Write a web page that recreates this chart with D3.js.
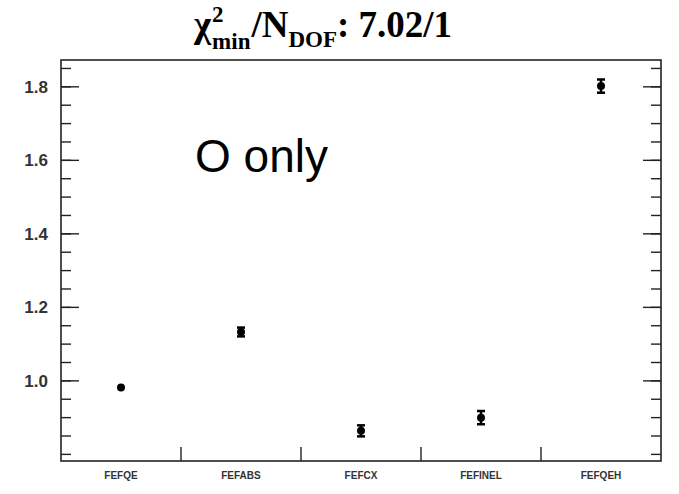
<!DOCTYPE html>
<html>
<head>
<meta charset="utf-8">
<script src="https://cdn.jsdelivr.net/npm/d3@7"></script>
<style>
  body { margin: 0; background: #fff; }
  svg { display: block; }
</style>
</head>
<body>
<svg id="chart" width="679" height="494"></svg>
<script>
// values
var categories = ["FEFQE", "FEFABS", "FEFCX", "FEFINEL", "FEFQEH"];
var values = [0.982, 1.133, 0.864, 0.900, 1.802];
var errors = [0.003, 0.012, 0.015, 0.018, 0.018];
var majorTicks = [1.0, 1.2, 1.4, 1.6, 1.8];
var minorTicks = d3.range(0.80, 1.87, 0.05).map(function (d) { return +d.toFixed(2); });

var svg = d3.select("#chart"),
	pLeft = 61, pRight = 661, pTop = 60, pBottom = 461;

var x = d3.scaleBand().domain(categories).range([pLeft, pRight]).padding(0);
var y = d3.scaleLinear().domain([0.782, 1.873]).range([pBottom, pTop]);

// frame
svg.append("rect")
	.attr("x", pLeft).attr("y", pTop)
	.attr("width", pRight - pLeft).attr("height", pBottom - pTop)
	.attr("fill", "none").attr("stroke", "#222").attr("stroke-width", 1.6);

// y axes, ticks inward
function yTicks(g, side) {
	var sgn = side == "left" ? 1 : -1;
	var x0 = side == "left" ? pLeft : pRight;
	g.selectAll("line.minor").data(minorTicks).enter().append("line")
		.attr("x1", x0).attr("x2", x0 + sgn * 10)
		.attr("y1", function (d) { return y(d); }).attr("y2", function (d) { return y(d); })
		.attr("stroke", "#222").attr("stroke-width", 1.4);
	g.selectAll("line.major").data(majorTicks).enter().append("line")
		.attr("x1", x0).attr("x2", x0 + sgn * 18)
		.attr("y1", function (d) { return y(d); }).attr("y2", function (d) { return y(d); })
		.attr("stroke", "#222").attr("stroke-width", 1.4);
}
yTicks(svg.append("g"), "left");
yTicks(svg.append("g"), "right");

svg.append("g").selectAll("text").data(majorTicks).enter().append("text")
	.attr("x", 48).attr("y", function (d) { return y(d); })
	.attr("dy", "0.36em").attr("text-anchor", "end")
	.attr("font-family", "Liberation Sans, Arial, sans-serif")
	.attr("font-weight", "bold").attr("font-size", 17).attr("fill", "#333")
	.text(function (d) { return d.toFixed(1); });

// x axis: ticks on bin edges, labels in bin centres
var edges = categories.slice(1).map(function (c) { return x(c); });
svg.append("g").selectAll("line").data(edges).enter().append("line")
	.attr("x1", function (d) { return d; }).attr("x2", function (d) { return d; })
	.attr("y1", pBottom).attr("y2", pBottom - 14)
	.attr("stroke", "#222").attr("stroke-width", 1.4);

svg.append("g").selectAll("text").data(categories).enter().append("text")
	.attr("x", function (d) { return x(d) + x.bandwidth() / 2; })
	.attr("y", 479).attr("text-anchor", "middle")
	.attr("font-family", "Liberation Sans, Arial, sans-serif")
	.attr("font-weight", "bold").attr("font-size", 10).attr("fill", "#333")
	.text(function (d) { return d; });

// points with error bars
var pts = categories.map(function (c, i) { return { c: c, v: values[i], e: errors[i] }; });
var g = svg.append("g");
pts.forEach(function (p) {
	var cx = x(p.c) + x.bandwidth() / 2;
	g.append("line")
		.attr("x1", cx).attr("x2", cx)
		.attr("y1", y(p.v - p.e)).attr("y2", y(p.v + p.e))
		.attr("stroke", "#000").attr("stroke-width", 2.5);
	if (p.e > 0.005) {
		[p.v - p.e, p.v + p.e].forEach(function (v) {
			g.append("line")
				.attr("x1", cx - 4).attr("x2", cx + 4)
				.attr("y1", y(v)).attr("y2", y(v))
				.attr("stroke", "#000").attr("stroke-width", 2.5);
		});
	}
	g.append("circle").attr("cx", cx).attr("cy", y(p.v)).attr("r", 4).attr("fill", "#000");
});

// annotation
svg.append("text")
	.attr("x", 195).attr("y", 172)
	.attr("font-family", "Liberation Sans, Arial, sans-serif")
	.attr("font-size", 46).attr("fill", "#000")
	.text("O only");

// title: chi^2_min / N_DOF : 7.02/1
var tf = "Liberation Serif, Times New Roman, serif";
var tx = 194, ty = 37;
function piece(str, px, py, size) {
	return svg.append("text").attr("x", px).attr("y", py)
		.attr("font-family", tf).attr("font-weight", "bold")
		.attr("font-size", size).attr("fill", "#000").text(str);
}
var chi = piece("\u03c7", tx, ty, 37);
tx += chi.node().getComputedTextLength() + 1;
var sup = piece("2", tx, 22, 23);
var sub = piece("min", tx, 49, 23);
tx += Math.max(sup.node().getComputedTextLength(), sub.node().getComputedTextLength()) + 1;
var nn = piece("/N", tx, ty, 37);
tx += nn.node().getComputedTextLength();
var dof = piece("DOF", tx, 47, 23);
tx += dof.node().getComputedTextLength();
piece(": 7.02/1", tx, ty, 37);
</script>
</body>
</html>
